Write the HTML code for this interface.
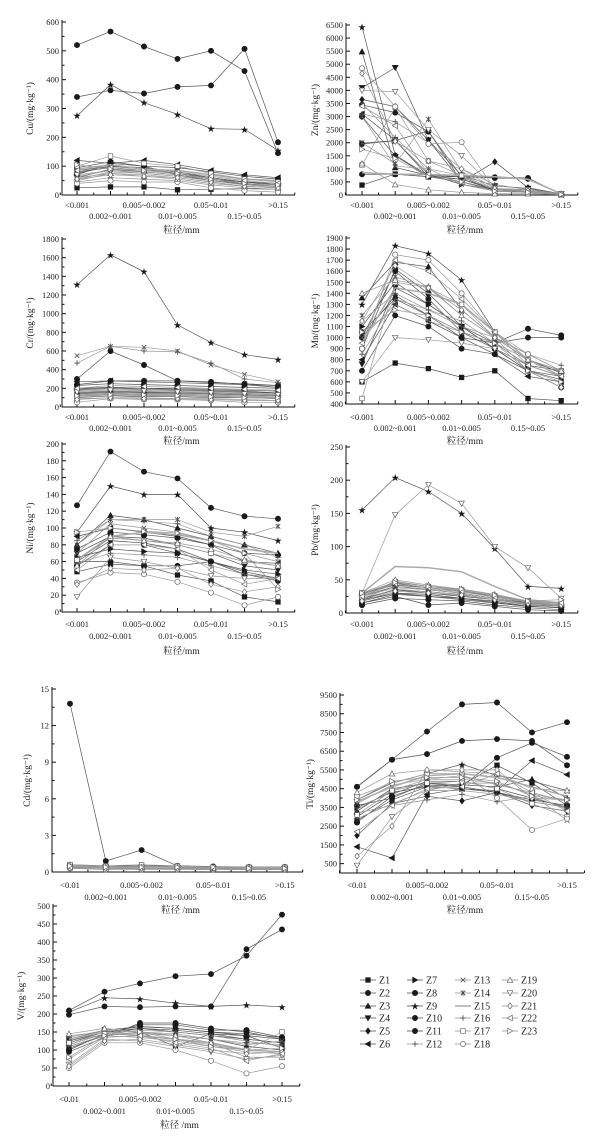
<!DOCTYPE html>
<html><head><meta charset="utf-8">
<style>
html,body{margin:0;padding:0;background:#fff;}
svg{display:block;font-family:"Liberation Serif","Noto Serif CJK SC","Noto Sans CJK SC",serif;}
</style></head>
<body>
<svg id="chart" width="610" height="1146" viewBox="0 0 610 1146" xmlns="http://www.w3.org/2000/svg"></svg>
<script>
// ---- data ----
const catsTop = ["<0.001","0.002~0.001","0.005~0.002","0.01~0.005","0.05~0.01","0.15~0.05",">0.15"];
const catsBot = ["<0.01","0.002~0.001","0.005~0.002","0.01~0.005","0.05~0.01","0.15~0.05",">0.15"];
const seriesNames = ["Z1","Z2","Z3","Z4","Z5","Z6","Z7","Z8","Z9","Z10","Z11","Z12","Z13","Z14","Z15","Z16","Z17","Z18","Z19","Z20","Z21","Z22","Z23"];
const markers = ["sq","circ","tri","trid","dia","tril","trir","hex","star","circ","circ","plus","x","ast","none","plus","osq","ocirc","otri","otrid","odia","otril","otrir"];

const cuVals = [
[25,28,28,18,20,22,20],[70,110,100,70,50,40,35],[80,95,85,75,55,45,40],[60,90,80,70,50,38,30],
[75,100,90,75,60,45,35],[120,110,120,105,85,70,60],[85,100,95,80,60,45,40],[95,115,100,95,80,65,55],
[275,383,320,280,230,228,155],[520,567,515,472,500,430,145],[340,363,352,375,380,507,183],[65,85,80,70,55,40,30],
[55,80,75,65,50,35,28],[50,75,70,60,45,30,25],[90,105,90,85,70,55,50],[45,60,55,50,35,25,20],
[100,135,110,100,75,55,45],[40,50,45,45,25,15,10],[60,75,65,55,40,30,25],[70,85,75,65,50,35,30],
[55,70,65,60,45,30,25],[85,95,85,80,65,50,40],[105,90,85,75,55,40,35]];
const znVals = [
[380,800,700,500,200,150,20],[3450,3150,2420,700,650,620,30],[5480,1050,750,600,250,200,30],[4100,4870,2100,750,350,250,50],
[3650,3380,2100,500,1270,280,40],[3100,2100,700,600,200,150,20],[1980,2080,800,400,200,100,20],[3000,1500,700,500,200,150,30],
[6430,1520,750,700,150,100,20],[790,790,700,700,680,650,30],[1950,2080,2450,500,200,150,30],[3500,2200,1000,750,200,150,30],
[3000,1100,1000,400,150,100,20],[2000,1200,2900,900,200,150,20],[850,800,780,750,700,600,50],[3100,2800,2000,1000,400,200,50],
[1150,3350,1300,750,200,150,30],[4850,3380,1950,2020,250,150,20],[1200,400,200,100,50,50,20],[4000,3950,2500,1500,250,200,50],
[4650,2050,1300,1000,250,150,30],[3400,2650,800,500,150,100,20],[1750,1400,700,500,150,100,20]];
const crVals = [
[100,120,110,110,100,100,90],[300,600,450,280,270,240,210],[200,210,200,200,190,180,170],[180,200,190,180,170,160,150],
[150,170,160,160,150,140,130],[270,280,270,260,250,240,230],[140,160,150,150,140,130,120],[230,250,240,230,220,210,200],
[1310,1630,1450,880,690,560,510],[240,280,280,280,260,250,230],[190,210,200,190,180,170,150],[470,650,600,590,470,300,260],
[550,650,640,600,450,350,270],[170,190,180,170,160,150,140],[120,140,130,130,120,110,100],[130,150,140,140,130,120,110],
[110,130,120,120,110,100,90],[50,90,80,80,70,50,50],[90,100,100,90,90,80,70],[160,180,170,160,150,140,130],
[80,100,90,90,80,70,70],[200,230,220,210,200,190,180],[120,130,130,120,110,100,100]];
const mnVals = [
[600,770,720,640,700,450,430],[1000,1600,1350,1050,950,1080,1020],[1360,1680,1640,1250,1000,800,700],[760,1450,1300,1100,900,700,650],
[1000,1380,1200,1050,900,700,620],[800,1300,1150,1000,850,650,600],[1100,1500,1300,1100,950,750,650],[900,1620,1400,1100,900,750,700],
[1300,1830,1760,1520,1050,800,680],[1050,1350,1200,1000,950,1000,1000],[700,1200,1100,900,850,700,550],[1150,1400,1250,1100,1000,850,750],
[1000,1300,1150,1050,950,800,700],[1200,1550,1450,1200,1000,850,700],[950,1450,1400,1300,1050,800,650],[850,1350,1250,1150,950,750,650],
[450,1500,1450,1300,1000,800,700],[900,1750,1700,1400,1050,850,700],[1400,1520,1460,1200,1000,800,700],[600,1000,980,950,900,750,650],
[1150,1650,1450,1250,1000,700,550],[950,1700,1600,1350,1050,750,650],[1050,1250,1200,1050,950,700,600]];
const niVals = [
[48,57,55,44,37,18,12],[127,191,167,159,124,114,111],[80,115,110,100,90,80,70],[70,90,88,80,70,55,50],
[60,85,82,75,60,48,40],[90,100,95,90,80,60,58],[65,75,72,70,60,50,45],[55,80,80,70,60,45,40],
[95,150,140,140,100,95,85],[60,60,55,55,60,45,37],[75,95,92,88,80,70,68],[85,110,108,105,90,80,65],
[70,105,100,95,85,70,60],[80,110,110,110,95,90,102],[62,90,95,92,85,75,70],[58,70,68,65,55,45,40],
[62,88,85,80,70,60,55],[35,47,45,36,23,8,18],[55,90,85,82,75,62,55],[18,65,60,52,43,40,40],
[33,52,50,52,33,24,30],[50,80,80,75,50,33,40],[95,100,96,94,85,70,27]];
const pbVals = [
[20,30,28,22,18,10,8],[15,25,12,15,10,5,3],[22,35,32,28,20,15,12],[25,40,35,30,22,15,10],
[18,30,25,22,16,10,8],[28,45,38,33,25,18,15],[20,35,30,25,20,12,10],[12,22,20,18,12,8,5],
[155,204,183,150,97,40,37],[30,42,38,33,25,15,12],[15,28,25,20,15,10,8],[25,38,35,30,22,14,12],
[22,40,36,32,24,16,14],[26,44,38,34,26,18,16],[30,70,68,62,40,20,15],[20,36,32,28,20,13,10],
[28,47,40,35,25,17,15],[24,48,40,34,26,16,12],[30,50,42,36,28,18,15],[30,148,193,165,100,68,22],
[18,33,30,27,20,14,12],[25,44,38,33,24,17,15],[30,46,40,36,27,18,20]];
const cdVals = [
[0.4,0.3,0.3,0.3,0.3,0.2,0.2],[0.5,0.4,0.4,0.4,0.3,0.3,0.3],[0.5,0.4,0.4,0.4,0.3,0.3,0.3],[0.4,0.4,0.3,0.3,0.3,0.3,0.3],
[0.5,0.4,0.4,0.4,0.4,0.3,0.3],[0.4,0.3,0.3,0.3,0.3,0.3,0.2],[0.5,0.4,0.4,0.4,0.3,0.3,0.3],[0.4,0.3,0.3,0.3,0.3,0.2,0.2],
[0.5,0.5,0.5,0.5,0.4,0.4,0.4],[13.8,0.9,1.8,0.5,0.45,0.4,0.4],[0.6,0.5,0.5,0.5,0.4,0.4,0.4],[0.4,0.3,0.3,0.3,0.3,0.3,0.3],
[0.3,0.3,0.3,0.3,0.2,0.2,0.2],[0.4,0.4,0.4,0.4,0.3,0.3,0.3],[0.5,0.4,0.4,0.4,0.4,0.3,0.3],[0.3,0.3,0.3,0.3,0.3,0.2,0.2],
[0.6,0.5,0.6,0.5,0.4,0.4,0.4],[0.3,0.2,0.2,0.2,0.2,0.2,0.2],[0.5,0.4,0.4,0.4,0.3,0.3,0.3],[0.4,0.3,0.3,0.3,0.3,0.3,0.3],
[0.3,0.3,0.3,0.3,0.3,0.2,0.2],[0.4,0.4,0.4,0.4,0.3,0.3,0.3],[0.5,0.4,0.4,0.4,0.4,0.3,0.3]];
const tiVals = [
[2800,3900,4600,4700,5750,4800,3600],[3600,4000,4800,4600,6150,6950,6200],[3300,4500,4800,4700,4600,5000,4000],[3000,4200,4900,4900,4500,4000,3500],
[2000,3700,4100,3850,4300,3600,3300],[1400,800,4200,4500,4400,6000,5250],[3500,4300,4600,4500,4300,3800,3500],[2700,4100,4700,4600,4300,3900,3600],
[3900,4800,5300,5800,5200,4900,4400],[4600,6050,7550,9000,9100,7500,8050],[4600,6050,6350,7050,7150,7050,5750],[3200,3600,3900,4200,3800,4100,3400],
[3700,4700,5000,5000,4800,4200,2800],[3400,4400,5000,5200,4700,4300,3800],[3800,4600,5200,5300,5100,4600,4100],[2900,3700,4400,4400,4200,3800,3500],
[3100,4400,4800,4900,4500,3700,3000],[4100,4800,5300,5300,4000,2300,2900],[4300,5300,5500,5400,5300,4500,4400],[400,3000,4400,4800,4800,4200,3900],
[900,2500,5500,5500,5500,4000,3900],[2200,3600,4500,4600,5300,4300,3300],[3900,4900,5100,5100,4900,4100,3900]];
const vVals = [
[110,140,150,110,145,140,105],[95,135,175,175,160,150,130],[120,150,165,160,150,145,135],[115,145,160,150,140,130,120],
[105,140,150,140,130,110,100],[125,150,160,155,145,130,120],[130,155,165,160,150,140,130],[100,145,170,170,155,155,135],
[205,245,242,230,221,225,220],[210,262,285,305,311,362,476],[198,221,219,221,221,380,435],[135,155,150,145,130,120,115],
[140,150,145,140,130,115,125],[115,145,155,150,140,125,110],[130,150,140,130,120,100,95],[110,140,135,125,110,95,90],
[120,145,140,130,115,100,150],[50,120,120,100,70,35,55],[145,160,150,140,120,80,80],[60,130,125,110,95,75,85],
[55,125,130,115,100,90,95],[75,135,140,120,105,70,90],[80,140,150,130,110,100,105]];

// ---- layout ----
const NS="http://www.w3.org/2000/svg";
const svg=document.getElementById('chart');
function mk(tag,attrs,parent){const e=document.createElementNS(NS,tag);for(const k in attrs)e.setAttribute(k,attrs[k]);(parent||svg).appendChild(e);return e;}

const panels=[
 {id:"cu",title:"Cu/(mg·kg⁻¹)",vals:cuVals,cats:catsTop,x0:62,x1:295,cx0:77,cstep:33.5,min:0,max:600,yTop:22,yBot:195,tick:100,minor:50,ticks0:0,r1:205,r2:216,xl:230,tx:33,xlab:"粒径/mm"},
 {id:"zn",title:"Zn/(mg·kg⁻¹)",vals:znVals,cats:catsTop,x0:346,x1:578,cx0:362,cstep:33.2,min:0,max:6500,yTop:25,yBot:195,tick:500,minor:0,ticks0:0,r1:205,r2:216,xl:230,tx:318,xlab:"粒径/mm"},
 {id:"cr",title:"Cr/(mg·kg⁻¹)",vals:crVals,cats:catsTop,x0:62,x1:295,cx0:77,cstep:33.5,min:0,max:1800,yTop:239,yBot:407,tick:200,minor:100,ticks0:0,r1:417,r2:428,xl:441,tx:33,xlab:"粒径/mm"},
 {id:"mn",title:"Mn/(mg·kg⁻¹)",vals:mnVals,cats:catsTop,x0:346,x1:578,cx0:362,cstep:33.2,min:400,max:1900,yTop:238,yBot:404,tick:100,minor:0,ticks0:400,r1:417,r2:428,xl:441,tx:318,xlab:"粒径/mm"},
 {id:"ni",title:"Ni/(mg·kg⁻¹)",vals:niVals,cats:catsTop,x0:62,x1:295,cx0:77,cstep:33.5,min:0,max:200,yTop:444,yBot:612,tick:20,minor:10,ticks0:0,r1:624,r2:636,xl:651,tx:33,xlab:"粒径/mm"},
 {id:"pb",title:"Pb/(mg·kg⁻¹)",vals:pbVals,cats:catsTop,x0:346,x1:578,cx0:362,cstep:33.2,min:0,max:250,yTop:447,yBot:613,tick:50,minor:25,ticks0:0,r1:624,r2:636,xl:651,tx:318,xlab:"粒径/mm"},
 {id:"cd",title:"Cd/(mg·kg⁻¹)",vals:cdVals,cats:catsBot,x0:52,x1:303,cx0:70,cstep:35.8,min:0,max:15,yTop:689,yBot:872,tick:3,minor:1.5,ticks0:0,r1:885,r2:897,xl:910,tx:30,xlab:"粒径 /mm"},
 {id:"ti",title:"Ti/(mg·kg⁻¹)",vals:tiVals,cats:catsBot,x0:340,x1:584,cx0:357,cstep:35,min:0,max:9500,yTop:695,yBot:873,tick:1000,minor:500,ticks0:500,r1:885,r2:897,xl:910,tx:313,xlab:"粒径/mm"},
 {id:"v",title:"V/(mg·kg⁻¹)",vals:vVals,cats:catsBot,x0:53,x1:300,cx0:69,cstep:35.5,min:0,max:500,yTop:906,yBot:1086,tick:50,minor:25,ticks0:0,r1:1099,r2:1111,xl:1125,tx:24,xlab:"粒径 /mm"}
];

function lineColor(i){return (i>=11)?"#999":"#555";}

function drawMarker(g,type,x,y){
  const s=2.3;let e;
  const filled=!type.startsWith("o");
  const fill=filled?"#1a1a1a":"#fff";
  const st=filled?"#1a1a1a":"#666";
  const t=type.replace(/^o(?=(sq|circ|tri|dia))/,"");
  switch(t){
    case "sq": e=mk("rect",{x:x-s,y:y-s,width:2*s,height:2*s,fill:fill,stroke:st,"stroke-width":0.7},g);break;
    case "circ": e=mk("circle",{cx:x,cy:y,r:s+0.3,fill:fill,stroke:st,"stroke-width":0.7},g);break;
    case "hex": e=mk("circle",{cx:x,cy:y,r:s+0.4,fill:fill,stroke:st,"stroke-width":0.7},g);break;
    case "tri": e=mk("polygon",{points:`${x},${y-s-0.5} ${x+s+0.5},${y+s} ${x-s-0.5},${y+s}`,fill:fill,stroke:st,"stroke-width":0.7},g);break;
    case "trid": e=mk("polygon",{points:`${x},${y+s+0.5} ${x+s+0.5},${y-s} ${x-s-0.5},${y-s}`,fill:fill,stroke:st,"stroke-width":0.7},g);break;
    case "tril": e=mk("polygon",{points:`${x-s-0.5},${y} ${x+s},${y-s-0.5} ${x+s},${y+s+0.5}`,fill:fill,stroke:st,"stroke-width":0.7},g);break;
    case "trir": e=mk("polygon",{points:`${x+s+0.5},${y} ${x-s},${y-s-0.5} ${x-s},${y+s+0.5}`,fill:fill,stroke:st,"stroke-width":0.7},g);break;
    case "dia": e=mk("polygon",{points:`${x},${y-s-0.7} ${x+s},${y} ${x},${y+s+0.7} ${x-s},${y}`,fill:fill,stroke:st,"stroke-width":0.7},g);break;
    case "star": e=mk("text",{x:x,y:y+3,"font-size":8,"text-anchor":"middle",fill:"#1a1a1a"},g);e.textContent="★";break;
    case "plus": e=mk("path",{d:`M${x-s-0.5},${y}H${x+s+0.5}M${x},${y-s-0.5}V${y+s+0.5}`,stroke:"#444","stroke-width":0.8,fill:"none"},g);break;
    case "x": e=mk("path",{d:`M${x-s},${y-s}L${x+s},${y+s}M${x-s},${y+s}L${x+s},${y-s}`,stroke:"#555","stroke-width":0.8,fill:"none"},g);break;
    case "ast": e=mk("path",{d:`M${x-s},${y-s}L${x+s},${y+s}M${x-s},${y+s}L${x+s},${y-s}M${x},${y-s-0.5}V${y+s+0.5}`,stroke:"#444","stroke-width":0.8,fill:"none"},g);break;
    default: return;
  }
}

panels.forEach(p=>{
  const g=mk("g",{});
  
  
  const yS=v=>p.yBot-(v-p.min)/(p.max-p.min)*(p.yBot-p.yTop);
  const xS=i=>p.cx0+i*p.cstep;
  const ax=mk("path",{d:`M${p.x0},${p.yTop-2}V${p.yBot}H${p.x1}`,stroke:"#111","stroke-width":1,fill:"none"},g);
  
  
  for(let v=p.ticks0; v<=p.max+1e-9; v+=p.tick){
    const y=yS(v);
    mk("line",{x1:p.x0,x2:p.x0+4,y1:y,y2:y,stroke:"#111","stroke-width":1},g);
    const t=mk("text",{x:p.x0-3,y:y+3,"font-size":8.5,"text-anchor":"end",fill:"#222"},g);
    t.textContent=String(v);
    
    
  }
  if(p.minor){
    for(let v=p.min+p.minor; v<p.max; v+=p.minor){
      if(Math.abs(((v-p.ticks0)/p.tick)-Math.round((v-p.ticks0)/p.tick))<1e-6) continue;
      const y=yS(v);
      mk("line",{x1:p.x0,x2:p.x0+2.5,y1:y,y2:y,stroke:"#111","stroke-width":1},g);
    }
  }
  for(let i=0;i<7;i++){
    const x=xS(i);
    mk("line",{x1:x,x2:x,y1:p.yBot,y2:p.yBot-4,stroke:"#111","stroke-width":1},g);
    mk("line",{x1:x+p.cstep/2,x2:x+p.cstep/2,y1:p.yBot,y2:p.yBot-2.5,stroke:"#111","stroke-width":1},g);
    const t=mk("text",{x:x,y:(i%2===0?p.r1:p.r2)+3,"font-size":8.5,"text-anchor":"middle",fill:"#222"},g);
    t.textContent=p.cats[i];
    
    
  }
  mk("line",{x1:p.cx0-p.cstep/2,x2:p.cx0-p.cstep/2,y1:p.yBot,y2:p.yBot-2.5,stroke:"#111"},g);
  const xl=mk("text",{x:(p.x0+p.x1)/2+3,y:p.xl+3,"font-size":9.5,"text-anchor":"middle",fill:"#222"},g);
  xl.textContent=p.xlab;
  
  
  const cy=(p.yTop+p.yBot)/2;
  const yt=mk("text",{x:p.tx,y:cy,"font-size":9.5,"text-anchor":"middle",fill:"#222",transform:`rotate(-90 ${p.tx} ${cy})`},g);
  yt.textContent=p.title;
  
  
  p.vals.forEach((vals,si)=>{
    const sg=mk("g",{},g);
    
    
    const d=vals.map((v,i)=>(i?"L":"M")+xS(i).toFixed(1)+","+yS(v).toFixed(1)).join("");
    mk("path",{d:d,fill:"none",stroke:si===14?"#aaa":lineColor(si),"stroke-width":si===14?1.5:0.7},sg);
    vals.forEach((v,i)=>drawMarker(sg,markers[si],xS(i),yS(v)));
  });
});

const lg=mk("g",{});


const colX=[360,407,455,502];
const rowY=[980,993,1006,1018,1031,1044];
seriesNames.forEach((n,i)=>{
  const c=Math.floor(i/6), r=i%6;
  const x=colX[c], y=rowY[r];
  const eg=mk("g",{},lg);
  
  
  mk("line",{x1:x,x2:x+16,y1:y,y2:y,stroke:i===14?"#aaa":lineColor(i),"stroke-width":i===14?1.5:0.8},eg);
  drawMarker(eg,markers[i],x+8,y);
  const t=mk("text",{x:x+19,y:y+3.5,"font-size":10,fill:"#222"},eg);
  t.textContent=n;
});
</script>
</body></html>
